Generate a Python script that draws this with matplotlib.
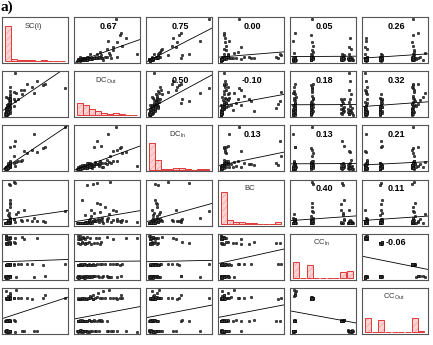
import numpy as np
import matplotlib
matplotlib.use("Agg")
import matplotlib.pyplot as plt

plt.rcParams["font.family"] = ["Liberation Sans", "DejaVu Sans"]
plt.rcParams["mathtext.fontset"] = "custom"
plt.rcParams["mathtext.rm"] = "Liberation Sans"
plt.rcParams["hatch.linewidth"] = 0.35

labels = ["SC(i)", r"DC$_{\rm Out}$", r"DC$_{\rm In}$", "BC", r"CC$_{\rm In}$", r"CC$_{\rm Out}$"]
# correlations shown in the upper triangle, row by row
corr_text = ["0.67", "0.75", "0.00", "0.05", "0.26",
             "0.50", "-0.10", "0.18", "0.32",
             "0.13", "0.13", "0.21",
             "0.40", "0.11",
             "-0.06"]
n_bins = [10, 10, 10, 10, 9, 9]

# node metrics (rescaled 0..1), nodes grouped by closeness level
sc = [0.92, 0.58, 0.07, 0.14, 0.05, 0.06, 0.04, 0.08, 0.03, 0.07, 0.09, 0.09, 0.02, 0.20, 0.06,
      0.09, 0.04, 0.34, 0.08, 0.05, 0.15, 0.03, 0.07, 0.08, 0.02, 0.06, 0.25, 0.04, 0.09, 0.42,
      0.62, 0.05, 0.08, 0.09, 0.03, 0.18,
      0.02, 0.04, 0.03, 0.06, 0.05, 0.08, 0.02, 0.07, 0.04, 0.09, 0.03, 0.05, 0.01, 0.06,
      0.45, 0.03, 0.05, 0.02, 0.07, 0.04, 0.06, 0.01, 0.08, 0.03, 0.08, 0.05, 0.02, 0.09, 0.04, 0.06,
      0.16, 0.09, 0.03, 0.06, 0.04, 0.08, 0.02, 0.05, 0.09, 0.03, 0.07, 0.04, 0.14,
      0.50, 0.30, 0.27, 0.16, 0.02, 0.04, 0.06, 0.03, 0.08, 0.05, 0.08, 0.02, 0.07, 0.04, 0.09, 0.03, 0.05]
dc_out = [0.58, 0.64, 0.25, 0.50, 0.04, 0.08, 0.12, 0.18, 0.02, 0.22, 0.28, 0.06, 0.10, 0.35, 0.15,
          0.42, 0.05, 0.68, 0.30, 0.14, 0.20, 0.07, 0.11, 0.38, 0.03, 0.24, 0.55, 0.09, 0.17, 0.60,
          0.66, 0.20, 0.24, 0.32, 0.40, 0.48,
          0.03, 0.08, 0.12, 0.18, 0.05, 0.26, 0.10, 0.33, 0.02, 0.45, 0.15, 0.21, 0.06, 0.38,
          0.47, 0.02, 0.06, 0.09, 0.14, 0.04, 0.19, 0.01, 0.27, 0.11, 0.52, 0.07, 0.16, 0.60, 0.23, 0.13,
          0.30, 0.15, 0.05, 0.12, 0.22, 0.09, 0.03, 0.18, 0.35, 0.08, 0.26, 0.13, 0.36,
          0.74, 0.55, 0.45, 0.90, 0.02, 0.07, 0.11, 0.04, 0.16, 0.20, 0.29, 0.06, 0.13, 0.10, 0.34, 0.03, 0.08]
dc_in = [0.95, 0.48, 0.10, 0.30, 0.03, 0.05, 0.06, 0.09, 0.02, 0.12, 0.16, 0.04, 0.03, 0.18, 0.08,
         0.13, 0.07, 0.36, 0.11, 0.04, 0.15, 0.01, 0.09, 0.06, 0.05, 0.10, 0.19, 0.02, 0.14, 0.44,
         0.50, 0.06, 0.08, 0.12, 0.04, 0.16,
         0.01, 0.03, 0.05, 0.04, 0.02, 0.50, 0.06, 0.08, 0.00, 0.11, 0.03, 0.07, 0.02, 0.13,
         0.80, 0.01, 0.03, 0.02, 0.05, 0.00, 0.09, 0.01, 0.12, 0.04, 0.15, 0.06, 0.03, 0.18, 0.02, 0.07,
         0.64, 0.15, 0.02, 0.06, 0.04, 0.10, 0.01, 0.05, 0.12, 0.03, 0.08, 0.02, 0.52,
         0.38, 0.42, 0.20, 0.08, 0.01, 0.03, 0.05, 0.02, 0.07, 0.04, 0.11, 0.00, 0.09, 0.06, 0.14, 0.01, 0.03]
bc = [0.27, 0.05, 0.85, 0.90, 0.01, 0.02, 0.00, 0.03, 0.00, 0.15, 0.06, 0.01, 0.02, 0.25, 0.04,
      0.35, 0.00, 0.08, 0.45, 0.03, 0.10, 0.01, 0.02, 0.12, 0.00, 0.05, 0.08, 0.01, 0.04, 0.06,
      0.04, 0.02, 0.05, 0.10, 0.01, 0.20,
      0.00, 0.01, 0.02, 0.05, 0.00, 0.08, 0.01, 0.03, 0.00, 0.10, 0.02, 0.04, 0.00, 0.06,
      0.12, 0.00, 0.01, 0.00, 0.03, 0.00, 0.05, 0.00, 0.08, 0.01, 0.04, 0.02, 0.01, 0.10, 0.00, 0.02,
      0.88, 0.82, 0.02, 0.18, 0.30, 0.50, 0.00, 0.07, 0.42, 0.01, 0.22, 0.04, 0.10,
      0.06, 0.30, 0.05, 0.04, 0.00, 0.01, 0.02, 0.00, 0.03, 0.01, 0.05, 0.00, 0.02, 0.01, 0.07, 0.00, 0.01]
cc_in = [0.32, 0.31, 0.33, 0.32, 0.30, 0.31, 0.32, 0.33, 0.30, 0.31, 0.30, 0.32, 0.31, 0.33, 0.30,
         0.32, 0.31, 0.33, 0.32, 0.30, 0.30, 0.31, 0.32, 0.33, 0.30, 0.31, 0.32, 0.33, 0.31, 0.32,
         0.03, 0.02, 0.04, 0.03, 0.05, 0.02,
         0.03, 0.02, 0.04, 0.03, 0.02, 0.04, 0.03, 0.02, 0.03, 0.04, 0.02, 0.03, 0.03, 0.02,
         0.01, 0.00, 0.02, 0.01, 0.03, 0.00, 0.02, 0.01, 0.03, 0.00, 0.02, 0.01, 0.03, 0.02, 0.01, 0.00,
         0.82, 0.84, 0.80, 0.83, 0.81, 0.85, 0.82, 0.86, 0.80, 0.84, 0.83, 0.81, 0.85,
         0.95, 0.93, 0.97, 0.94, 1.00, 0.92, 0.96, 0.93, 0.98, 0.95, 0.94, 0.99, 0.92, 0.97, 0.95, 0.93, 0.96]
cc_out = [0.80, 0.81, 0.79, 0.82, 0.78, 0.79, 0.81, 0.80, 0.78, 0.83, 0.80, 0.79, 0.81, 0.82, 0.79,
          0.80, 0.78, 0.81, 0.83, 0.79, 0.80, 0.82, 0.78, 0.81, 0.80, 0.79, 0.82, 0.81, 0.80, 0.79,
          0.88, 0.86, 0.88, 0.92, 0.97, 1.00,
          0.26, 0.27, 0.25, 0.28, 0.26, 0.27, 0.25, 0.28, 0.26, 0.27, 0.26, 0.25, 0.27, 0.26,
          0.02, 0.00, 0.01, 0.03, 0.02, 0.01, 0.00, 0.02, 0.03, 0.01, 0.02, 0.00, 0.01, 0.03, 0.02, 0.01,
          0.27, 0.26, 0.28, 0.25, 0.27, 0.29, 0.26, 0.28, 0.27, 0.25, 0.29, 0.26, 0.28,
          0.02, 0.01, 0.03, 0.00, 0.02, 0.04, 0.01, 0.03, 0.00, 0.02, 0.01, 0.04, 0.02, 0.00, 0.03, 0.01, 0.02]

data = [np.array(v) for v in (sc, dc_out, dc_in, bc, cc_in, cc_out)]
n = len(sc)

fig = plt.figure(figsize=(4.33, 3.45), dpi=100)
gs = fig.add_gridspec(6, 6, left=0.005, right=0.988, top=0.951, bottom=0.032,
                      wspace=0.09, hspace=0.18)

k = 0
for i in range(6):
    for j in range(6):
        ax = fig.add_subplot(gs[i, j])
        ax.set_xticks([])
        ax.set_yticks([])
        for s in ax.spines.values():
            s.set_color("#555555")
            s.set_linewidth(0.8)
        x = data[j]
        y = data[i]
        lo, hi = x.min(), x.max()
        pad = 0.05 * (hi - lo)
        ax.set_xlim(lo - pad, hi + pad)

        if i == j:
            # histogram on the diagonal: light hatched fill, then red outline
            ax.hist(x, bins=n_bins[i], range=(lo, hi), rwidth=0.9,
                    facecolor="#fbd3d3", edgecolor="#f09090", hatch="/////", linewidth=0)
            ax.hist(x, bins=n_bins[i], range=(lo, hi), rwidth=0.9,
                    fill=False, edgecolor="#e03a3a", linewidth=0.7)
            ax.set_ylim(-0.04 * n, 1.05 * n)
            ax.text(0.48, 0.8, labels[i], transform=ax.transAxes, ha="center", va="center",
                    fontsize=5.5, color="#333333")
            continue

        ylo, yhi = y.min(), y.max()
        ypad = 0.05 * (yhi - ylo)
        ax.set_ylim(ylo - ypad, yhi + ypad)
        ax.plot(x, y, "o", ms=1.8, mfc="#444444", mec="black", mew=0.35)

        # least squares line across the panel
        slope, icpt = np.polyfit(x, y, 1)
        xs = np.array(ax.get_xlim())
        ax.plot(xs, icpt + slope * xs, color="black", lw=0.6)

        if i < j:
            ax.text(0.52, 0.8, corr_text[k], transform=ax.transAxes, ha="center", va="center",
                    fontsize=6.5, fontweight="bold")
            k += 1

fig.text(0.002, 0.998, "a)", fontsize=11, fontweight="bold", family="Liberation Serif",
         ha="left", va="top")

fig.savefig("out.png", dpi=100)
